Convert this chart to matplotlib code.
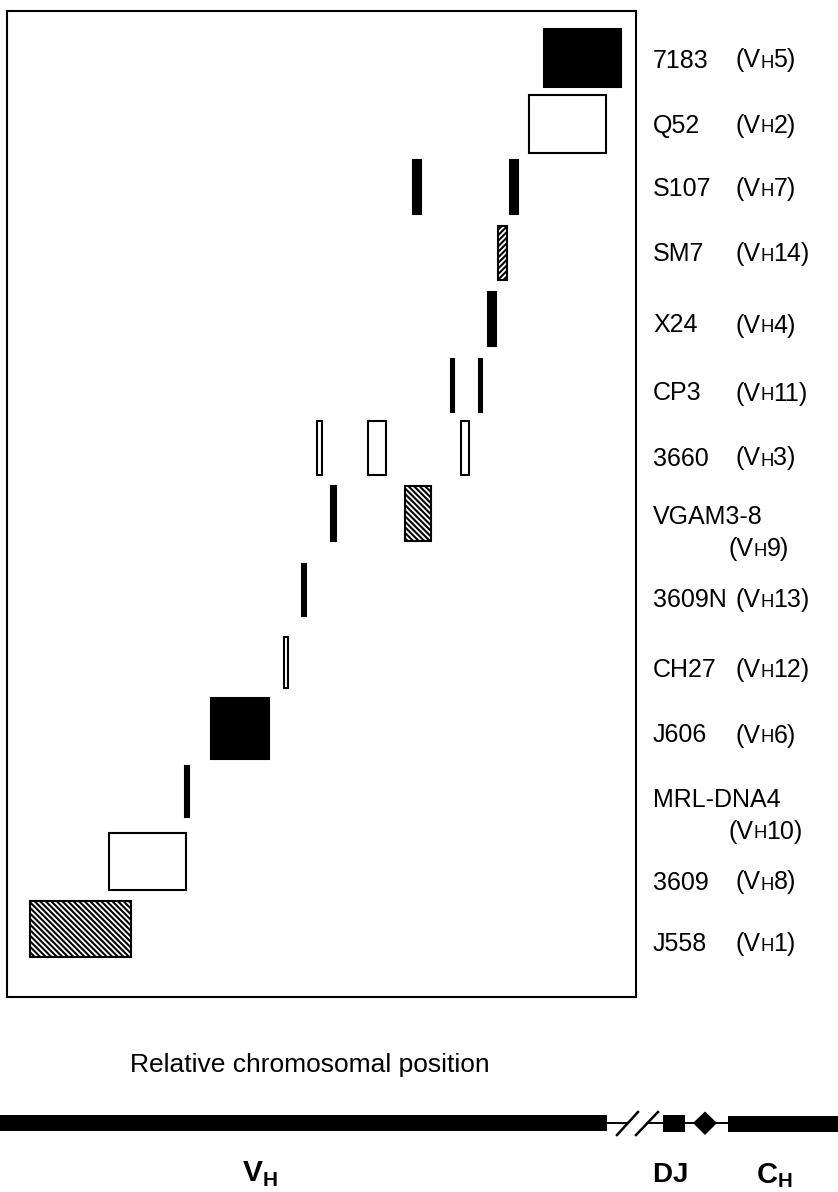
import matplotlib
matplotlib.use("Agg")
import matplotlib.pyplot as plt
from matplotlib.patches import Rectangle, Polygon

plt.rcParams['font.family'] = ['Liberation Sans', 'DejaVu Sans']
plt.rcParams['mathtext.fontset'] = 'custom'
plt.rcParams['mathtext.rm'] = 'Liberation Sans'
plt.rcParams['mathtext.bf'] = 'Liberation Sans:bold'
plt.rcParams['hatch.linewidth'] = 1.5

# ---------------- data ----------------
gene_names = ["7183", "Q52", "S107", "SM7", "X24", "CP3", "3660", "VGAM3-8",
              "3609N", "CH27", "J606", "MRL-DNA4", "3609", "J558"]
family_nums = ["5", "2", "7", "14", "4", "11", "3", "9", "13", "12", "6", "10", "8", "1"]
family_on_second_line = [False, False, False, False, False, False, False, True,
                         False, False, False, True, False, False]

# vertical extent of each gene row (relative units, top -> bottom)
row_top = [28, 94, 159, 225, 291, 358, 420, 485, 563, 636, 697, 765, 832, 900]
row_bottom = [88, 154, 215, 281, 347, 413, 476, 542, 617, 689, 760, 818, 891, 958]
label_baseline = [67.5, 132.5, 196, 261, 332.5, 400.5, 465.5, 524.5, 607, 677, 742.5, 807, 889.5, 951]

# segments: row index, start, end (relative chromosomal position), style
seg_row = [0, 1, 2, 2, 3, 4, 5, 5, 6, 6, 6, 7, 7, 8, 9, 10, 11, 12, 13]
seg_start = [543, 528, 412, 509, 497, 487, 450, 478, 316, 367, 460, 330, 404, 301, 283, 210, 184, 108, 29]
seg_end = [622, 607, 422, 519, 508, 497, 455, 483, 323, 387, 470, 337, 432, 307, 289, 270, 190, 187, 132]
seg_style = ["solid", "open", "solid", "solid", "hatch_fine", "solid", "solid", "solid",
             "open", "open", "open", "solid", "hatch", "solid", "open", "solid", "solid", "open", "hatch"]

# ---------------- figure ----------------
W, H = 838, 1192
fig = plt.figure(figsize=(W / 100, H / 100), dpi=100)

fl, fr, ft, fb = 7, 636, 11, 997
ax = fig.add_axes([fl / W, 1 - fb / H, (fr - fl) / W, (fb - ft) / H])
ax.set_xlim(fl, fr)
ax.set_ylim(fb, ft)
ax.set_xticks([])
ax.set_yticks([])
for s in ax.spines.values():
    s.set_linewidth(1.5)
    s.set_color('black')

for r, x0, x1, st in zip(seg_row, seg_start, seg_end, seg_style):
    y0, y1 = row_top[r], row_bottom[r]
    kw = dict(edgecolor='black', linewidth=1.5)
    if st == "solid":
        kw['facecolor'] = 'black'
    elif st == "open":
        kw['facecolor'] = 'white'
    elif st == "hatch":
        kw['facecolor'] = 'white'
        kw['hatch'] = '\\' * 6
    elif st == "hatch_fine":
        kw['facecolor'] = 'white'
        kw['hatch'] = '/' * 6
    ax.add_patch(Rectangle((x0 + 0.75, y0 + 0.75), x1 - x0 - 1.5, y1 - y0 - 1.5, **kw))

# overlay axes in pixel coordinates
ov = fig.add_axes([0, 0, 1, 1], facecolor='none')
ov.set_xlim(0, W)
ov.set_ylim(H, 0)
ov.axis('off')

renderer = fig.canvas.get_renderer()


def draw_pieces(x, y, pieces):
    for s, size in pieces:
        t = ov.text(x, y, s, fontsize=size, ha='left', va='baseline')
        x += t.get_window_extent(renderer).width


FS = 18
for i, name in enumerate(gene_names):
    yb = label_baseline[i]
    ov.text(653, yb, name, fontsize=FS, ha='left', va='baseline')
    fam = [("(V", FS), ("H", FS * 0.74), (family_nums[i] + ")", FS)]
    if family_on_second_line[i]:
        draw_pieces(728, yb + 31.5, fam)
    else:
        draw_pieces(735, yb, fam)

# ---------------- chromosome map ----------------
ov.text(130, 1072, "Relative chromosomal position", fontsize=19, ha='left', va='baseline')

yc = 1123
ov.add_patch(Rectangle((0, 1115), 607, 16, facecolor='black', edgecolor='none'))
ov.plot([607, 628], [yc, yc], color='black', lw=1.4, solid_capstyle='butt')
ov.plot([646, 728], [yc, yc], color='black', lw=1.4, solid_capstyle='butt')
ov.plot([617, 638], [1135, 1112], color='black', lw=1.8)
ov.plot([636, 658], [1135, 1112], color='black', lw=1.8)
ov.add_patch(Rectangle((663, 1115), 22, 17, facecolor='black', edgecolor='none'))
ov.add_patch(Polygon([(693, yc), (705, 1111.5), (717, yc), (705, 1135)],
                     closed=True, facecolor='black', edgecolor='none'))
ov.add_patch(Rectangle((728, 1116), 110, 16, facecolor='black', edgecolor='none'))

ov.text(242, 1182, r'$\mathbf{V}_{\mathbf{H}}$', fontsize=21.5, ha='left', va='baseline')
ov.text(652, 1182, r'$\mathbf{DJ}$', fontsize=20, ha='left', va='baseline')
ov.text(756, 1183, r'$\mathbf{C}_{\mathbf{H}}$', fontsize=21, ha='left', va='baseline')

fig.savefig("out.png", dpi=100)
